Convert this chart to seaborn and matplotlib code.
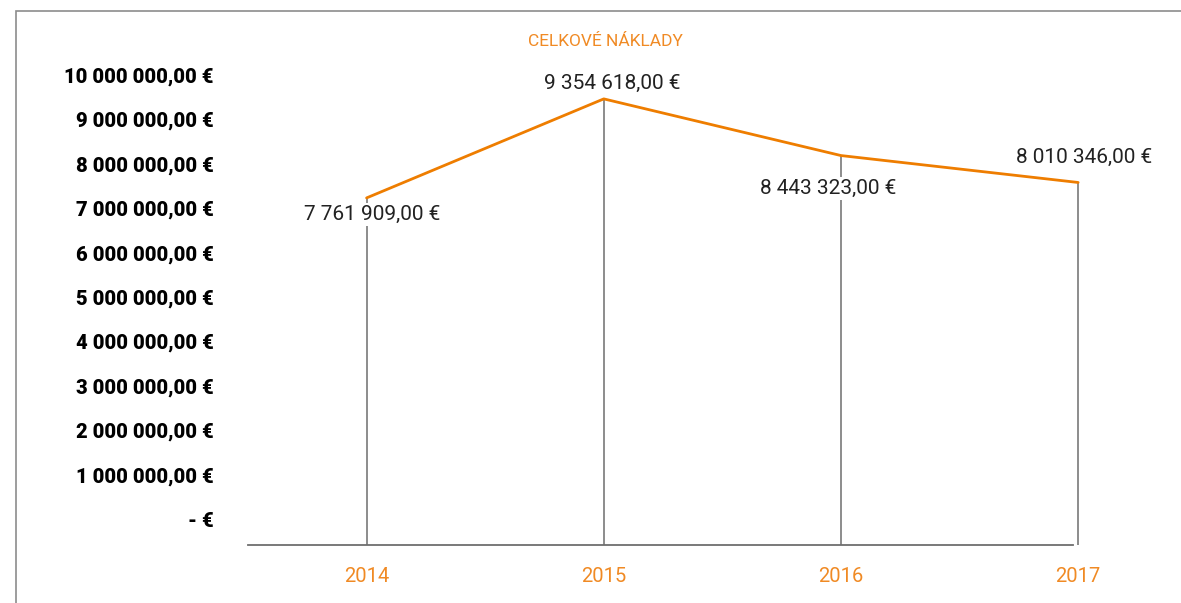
import pandas as pd
import matplotlib
matplotlib.use('Agg')
import matplotlib.pyplot as plt
import matplotlib.patches as patches
import seaborn as sns

# data
years = ['2014', '2015', '2016', '2017']
costs = [7761909, 9354618, 8443323, 8010346]
y_ticks = [0, 1000000, 2000000, 3000000, 4000000, 5000000,
           6000000, 7000000, 8000000, 9000000, 10000000]
title = 'CELKOVÉ NÁKLADY'

# label offsets in points (dx, dy) for each data label
label_offsets = [(4, -12), (6, 11), (-9, -24), (4, 18)]

orange = '#EE7D00'
label_orange = '#F08A24'
gray = '#6e6e6e'

def fmt_eur(v):
    if v == 0:
        return '- €'
    s = f'{v:,.2f}'.replace(',', ' ').replace('.', ',')
    return s + ' €'

sns.set_theme(style='white')
plt.rcParams['font.family'] = ['Roboto', 'DejaVu Sans']

df = pd.DataFrame({'year': years, 'cost': costs})
df['pos'] = range(len(years))

fig = plt.figure(figsize=(11.81, 6.03), dpi=100)
ax = fig.add_axes([248 / 1181, 1 - 545 / 603, (1090 - 248) / 1181, (545 - 60) / 603])
ax2 = ax.twinx()

# primary axis only carries the euro tick labels
ax.set_ylim(-585000, 10340000)
ax.set_yticks(y_ticks)
ax.set_yticklabels([fmt_eur(v) for v in y_ticks], fontsize=14.5, fontweight='heavy', color='black')
ax.tick_params(axis='y', length=0, pad=25)
ax.set_xlim(-0.5, 3.05)
ax.set_xticks(df['pos'])
ax.set_xticklabels(years, fontsize=14.5, color=label_orange)
ax.tick_params(axis='x', length=0, pad=16)
for side in ['top', 'right', 'left']:
    ax.spines[side].set_visible(False)
ax.spines['bottom'].set_color(gray)
ax.spines['bottom'].set_linewidth(1.3)
ax.spines['bottom'].set_bounds(-0.5, 2.98)

# secondary axis for the line
ax2.set_ylim(2180000, 9980000)
lo = ax2.get_ylim()[0]
ax2.vlines(df['pos'], lo, df['cost'], color=gray, linewidth=1.1, clip_on=False, zorder=1)
sns.lineplot(data=df, x='pos', y='cost', ax=ax2, color=orange, linewidth=2, clip_on=False, zorder=3)
for (p, c), (dx, dy) in zip(zip(df['pos'], df['cost']), label_offsets):
    ax2.annotate(fmt_eur(c), (p, c), xytext=(dx, dy), textcoords='offset points',
                 ha='center', va='center', fontsize=15, color='#222222', zorder=4,
                 bbox=dict(facecolor='white', edgecolor='none', pad=1.5), annotation_clip=False)
ax2.set_yticks([])
ax2.set_ylabel('')
ax2.set_xlabel('')
ax.set_xlabel('')
for side in ['top', 'right', 'left', 'bottom']:
    ax2.spines[side].set_visible(False)
ax2.set_xlim(-0.5, 3.05)

fig.text(605 / 1181, 1 - 41 / 603, title, ha='center', va='center', fontsize=12.5, color=label_orange)

# outer frame
fig.patches.append(patches.Rectangle((16 / 1181, -0.05), 1.2, 1 - 11 / 603 + 0.05,
                                     transform=fig.transFigure, fill=False,
                                     edgecolor='#8c8c8c', linewidth=1.2))

fig.savefig('out.png', dpi=100)
